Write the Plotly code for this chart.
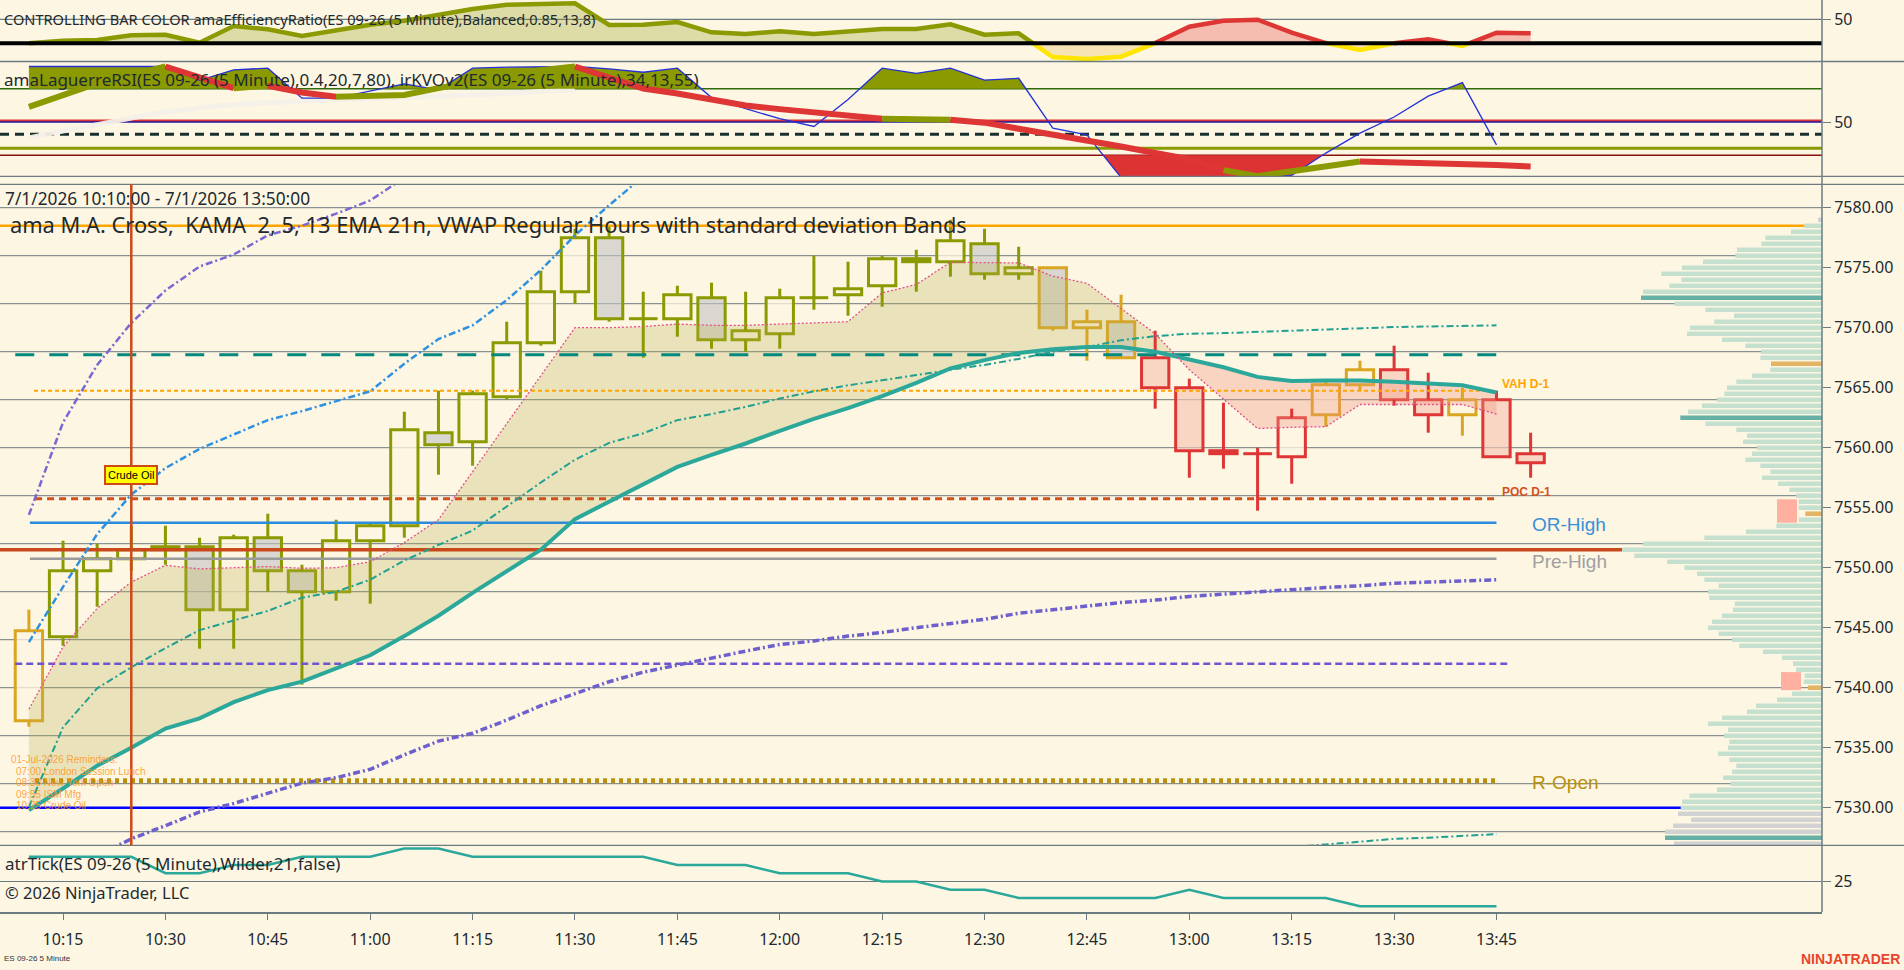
import plotly.graph_objects as go

# page geometry: plot area is 1822 x 912 px (price scale on the right, time scale below)
W, H = 1904, 970
PW, PH = 1822, 912


def fx(px):
    return px / PW


def fy(py):
    return (PH - py) / PH


# ---------------------------------------------------------------- data
times = ["10:10", "10:15", "10:20", "10:25", "10:30", "10:35", "10:40", "10:45", "10:50", "10:55",
         "11:00", "11:05", "11:10", "11:15", "11:20", "11:25", "11:30", "11:35", "11:40", "11:45",
         "11:50", "11:55", "12:00", "12:05", "12:10", "12:15", "12:20", "12:25", "12:30", "12:35",
         "12:40", "12:45", "12:50", "12:55", "13:00", "13:05", "13:10", "13:15", "13:20", "13:25",
         "13:30", "13:35", "13:40", "13:45", "13:50"]
time_ticks = ["10:15", "10:30", "10:45", "11:00", "11:15", "11:30", "11:45", "12:00",
              "12:15", "12:30", "12:45", "13:00", "13:15", "13:30", "13:45"]

opens = [7537.25, 7544.25, 7549.75, 7550.75, 7551.5, 7551.75, 7546.5, 7552.5, 7549.75, 7548.0,
         7552.25, 7553.5, 7561.25, 7560.5, 7564.25, 7568.75, 7573.0, 7577.5, 7570.75, 7570.75,
         7572.5, 7569.0, 7569.5, 7572.5, 7572.75, 7573.5, 7575.5, 7575.5, 7577.0, 7574.5,
         7575.0, 7570.0, 7570.5, 7567.5, 7565.0, 7559.75, 7559.5, 7559.25, 7562.75, 7565.25,
         7566.5, 7564.0, 7562.75, 7564.0, 7559.5]
highs = [7546.5, 7552.25, 7552.0, 7553.5, 7553.5, 7552.5, 7552.75, 7554.5, 7550.25, 7554.0,
         7553.75, 7563.0, 7564.75, 7564.75, 7570.5, 7574.75, 7578.25, 7578.5, 7573.0, 7573.5,
         7573.75, 7573.0, 7573.25, 7576.0, 7575.5, 7576.0, 7576.5, 7579.0, 7578.25, 7576.75,
         7575.0, 7571.5, 7572.75, 7569.75, 7565.75, 7563.75, 7560.0, 7563.25, 7565.5, 7567.25,
         7568.5, 7566.25, 7565.0, 7564.75, 7561.25]
lows = [7536.75, 7543.5, 7546.75, 7549.75, 7550.25, 7543.25, 7543.25, 7548.0, 7540.25, 7547.25,
        7547.0, 7552.5, 7557.75, 7558.5, 7564.0, 7568.5, 7572.0, 7570.5, 7567.5, 7569.25,
        7568.25, 7568.0, 7568.25, 7571.5, 7571.0, 7571.75, 7573.0, 7574.25, 7574.0, 7574.0,
        7569.75, 7567.25, 7567.5, 7563.25, 7557.5, 7558.25, 7554.75, 7557.0, 7561.75, 7564.75,
        7563.5, 7561.25, 7561.0, 7559.25, 7557.5]
closes = [7544.75, 7549.75, 7550.75, 7551.5, 7551.75, 7546.5, 7552.5, 7549.75, 7548.0, 7552.25,
          7553.5, 7561.5, 7560.25, 7564.5, 7568.75, 7573.0, 7577.5, 7570.75, 7570.75, 7572.75,
          7569.0, 7569.75, 7572.5, 7572.5, 7573.25, 7575.75, 7575.75, 7577.25, 7574.5, 7575.0,
          7570.0, 7570.5, 7567.5, 7565.0, 7559.75, 7559.5, 7559.5, 7562.5, 7565.25, 7566.5,
          7564.0, 7562.75, 7564.0, 7559.25, 7558.75]
# bar colour from the efficiency ratio: g = goldenrod, o = olive, r = red
bar_state = ("g" "oooooooooo" "oooooooooo" "ooooooooo" "ggg" "rrrrr" "gg" "rr" "g" "rr")

kama = [7538.2, 7543.4, 7546.6, 7548.8, 7550.2, 7549.9, 7550.0, 7550.1, 7549.95, 7550.0,
        7550.5, 7552.1, 7554.0, 7558.0, 7562.0, 7566.0, 7570.0, 7570.0, 7570.1, 7570.3,
        7570.2, 7570.2, 7570.3, 7570.45, 7570.5, 7572.9, 7573.6, 7575.45, 7575.45, 7575.4,
        7574.3, 7573.7, 7571.6, 7569.5, 7566.5, 7564.05, 7561.6, 7561.7, 7561.75, 7563.6,
        7563.6, 7563.6, 7563.6, 7562.8]
ema = [7529.8, 7531.6, 7533.5, 7535.0, 7536.6, 7537.45, 7538.8, 7539.8, 7540.5, 7541.6,
       7542.7, 7544.3, 7546.0, 7547.9, 7549.7, 7551.5, 7554.05, 7555.5, 7556.9, 7558.4,
       7559.4, 7560.35, 7561.4, 7562.4, 7563.3, 7564.3, 7565.4, 7566.6, 7567.3, 7567.9,
       7568.2, 7568.4, 7568.4, 7568.0, 7567.35, 7566.7, 7565.9, 7565.55, 7565.6, 7565.6,
       7565.5, 7565.35, 7565.2, 7564.6]
vwap = [7530.05, 7536.7, 7539.95, 7541.7, 7543.3, 7544.8, 7545.6, 7546.4, 7547.5, 7548.0,
        7549.0, 7550.6, 7551.9, 7553.1, 7555.1, 7557.1, 7559.0, 7560.4, 7561.2, 7562.3,
        7562.8, 7563.4, 7564.1, 7564.7, 7565.2, 7565.6, 7566.05, 7566.5, 7566.9, 7567.4,
        7568.0, 7568.4, 7568.95, 7569.3, 7569.5, 7569.55, 7569.65, 7569.8, 7569.9, 7569.97,
        7570.05, 7570.1, 7570.15, 7570.2]
band_up1 = [7543.8, 7548.4, 7552.8, 7556.1, 7558.3, 7559.9, 7561.1, 7562.3, 7563.05, 7563.9,
            7564.7, 7567.0, 7569.05, 7570.2, 7572.3, 7574.8, 7577.7, 7580.2, 7582.6]
band_up2 = [7554.4, 7562.1, 7566.9, 7570.4, 7573.1, 7575.1, 7576.1, 7577.7, 7578.5, 7579.5,
            7580.6, 7582.5]
band_dn1 = [None, None, 7526.0, 7527.4, 7528.5, 7529.65, 7530.35, 7531.2, 7532.05, 7532.5,
            7533.2, 7534.4, 7535.55, 7536.2, 7537.3, 7538.5, 7539.5, 7540.5, 7541.3, 7541.9,
            7542.5, 7543.05, 7543.6, 7543.9, 7544.3, 7544.6, 7545.0, 7545.35, 7545.7, 7546.2,
            7546.5, 7546.8, 7547.1, 7547.3, 7547.6, 7547.8, 7548.0, 7548.2, 7548.35, 7548.5,
            7548.7, 7548.8, 7548.9, 7549.0]
band_dn2 = [None] * 37 + [7526.7, 7526.95, 7527.2, 7527.4, 7527.5, 7527.65, 7527.8]

# price levels
level_on_high = 7578.5
level_teal = 7567.75
vah_d1 = 7564.75
poc_d1 = 7555.75
or_high = 7553.75
level_red = 7551.5
pre_high = 7550.75
level_purple = 7542.0
r_open = 7532.25
level_blue = 7530.0
event_time = "10:25"

price_ticks = [7530, 7535, 7540, 7545, 7550, 7555, 7560, 7565, 7570, 7575, 7580]
price_grid = [7528, 7532, 7536, 7540, 7544, 7548, 7552, 7556, 7560, 7564, 7568, 7572, 7576, 7580]

# volume profile, rows of 0.5 pt from 7579.00 downwards
vp_top, vp_step = 7579.0, 0.5
vp_width = [4, 17.7, 31, 56.7, 60.7, 85, 86.7, 119, 140, 160.7, 140.7, 152.7, 179, 181, 147.7,
            116.7, 88, 107.7, 132, 135, 100, 76.7, 61, 61.7, 51, 51.7, 70, 85.7, 95, 97.7,
            105, 120, 134, 141.7, 116.7, 85.7, 75, 79, 65, 70, 76.7, 61.7, 51.7, 60, 44,
            32.7, 25.7, 23.3, 23.3, 16.7, 23.3, 45.7, 76, 117.7, 179, 200, 187.7, 155, 137.7, 125,
            117.7, 103.3, 114, 112.7, 87.3, 89, 100, 110, 114, 103.3, 90, 82.7, 59, 40, 29,
            26, 17.3, 18.3, 14, 30, 45, 66, 75, 100, 114, 94, 98, 92.7, 94, 104,
            92.7, 85.7, 90, 99, 91.7, 105, 132.7, 140, 141.3, 144, 131, 149, 157, 157, 148]
vp_code = "g" + "l" * 12 + "d" + "l" * 10 + "o" + "l" * 8 + "d" + "l" * 15 + "o" + "l" * 28 + \
          "o" + "l" * 20 + "gggg" + "d" + "g"
vp_zones = [(7553.75, 7555.7, 25, 45), (7539.8, 7541.3, 21, 41)]

# efficiency ratio (top panel)
eff_ratio = [0, 5.4, 6.9, 16.7, 17.9, 1.25, 36, 29.2, 15.2, 26.25, 38.75, 47, 59, 71.5, 80.4,
             81.9, 83.3, 38.1, 38.75, 44.4, 22.9, 19.4, 25, 19.4, 25.6, 29.8, 29.8, 39.6, 17.9,
             20.8, -28.5, -32.7, -27.9, 0.5, 34.6, 47, 49.2, 22.1, 0.5, -14, 0, 8.3, -5.6,
             22.1, 20.8]
er_trend = ("oooooooooo" "oooooooooo" "oooooooooo" "oo" "rrrrrrrrrr" "rrr")

# laguerre RSI + KVO (second panel)
laguerre = [100, 100, 100, 100, 100, 87.5, 97, 98.5, 71.5, 71.5, 78, 84.4, 79, 98.5, 99.4,
            99.8, 100, 97.8, 94.8, 98.5, 72, 62, 53, 46, 70.3, 98.5, 93.9, 98.5, 87.8, 89.4,
            44.5, 38.5, 0, 0, 0, 0, 0, 2, 22, 40, 54.5, 73.3, 85.5, 29.4]
kvo = [63.6, 74.2, 84.8, 92.1, 100, 90.3, 80.5, 82.7, 76.6, 72.7, 73.6, 74.4, 80.5, 86.6, 92.1,
       96.6, 100, 90, 80.1, 75.7, 70.1, 64.8, 61.6, 58.7, 55.7, 53, 52.5, 52.1, 49.4, 43.9,
       38.9, 33.5, 28.0, 22.1, 16.6, 6.6, 1.2, 5.7, 10.3, 14.4, 13.9, 13.0, 12.1, 11.2, 9.9]
kvo_col = ("ooooo" "rr" "o" "rr" "ooooooo" "rrrrrrrrr" "oo" "rrrrrrrr" "oooo" "rrrrr")
kvo_slow = [35.6, 41.9, 47.6, 53.6, 59.0, 62.6, 65.5, 67.3, 68.9, 70.0, 71.0, 72.1, 73.2, 74.5,
            75.9, 77.6, 79.1]
lag_levels = [(80, "#2E6A08", 1.5, None), (51.2, "#DD3333", 2.5, None), (50, "#1A1AA0", 1.5, None),
              (38.9, "#183030", 3, "9px,6px"), (26.3, "#8A9A00", 3, None), (20, "#8B1010", 1.5, None)]

# atrTick (bottom panel)
atr_tick = [28, 28, 28, 28, 26, 26, 27, 27, 28, 28, 28, 29, 29, 28, 28, 28, 28, 28, 28, 27, 27,
            27, 26, 26, 26, 25, 25, 24, 24, 23, 23, 23, 23, 23, 24, 23, 23, 23, 23, 22, 22,
            22, 22, 22]

reminders = ["01-Jul-2026 Reminders:", "07:00 London Session Lunch", "08:30 New York Open",
             "09:55 ISM Mfg", "10:25 Crude Oil"]

# ---------------------------------------------------------------- styles
BG = "#FDF6E3"
GRID = "#6B7B7F"
TXT = "#1E2A30"
OLIVE = "#8A9A00"
GOLD = "#DAA520"
RED = "#DE3535"
CANDLE = {"o": OLIVE, "g": GOLD, "r": RED}
UP_FILL = "rgba(253,246,227,0.75)"
DN_FILL = {"o": "rgba(195,195,195,0.6)", "g": "rgba(195,195,195,0.6)", "r": "rgba(248,196,180,0.65)"}
VP_COL = {"l": "#C6E0D0", "d": "#66B0A6", "o": "#E2B466", "g": "#D2D2D2"}

X0 = (0 - 28.9) / 34.13
X1 = (PW - 28.9) / 34.13
dom_er = [fy(61.5), 1]
dom_lag = [fy(176.3), fy(61.5)]
dom_main = [fy(845.3), fy(184.3)]
dom_atr = [0, fy(845.3)]
main_rng = [7580 - (845.3 - 207.7) / 12, 7580 + (207.7 - 184.3) / 12]
er_rng = [-(61.5 - 43.3) / 0.48, 43.3 / 0.48]
lag_rng = [(177.5 - 176.3) / 1.11, (177.5 - 61.5) / 1.11]
atr_rng = [25 - (912 - 881.5) / 8.25, 25 + (881.5 - 845.3) / 8.25]


def sign_runs(xs, a, b):
    """split the band between a and b into runs where a >= b or a < b"""
    runs = []
    cur = None
    for i in range(len(xs)):
        s = a[i] >= b[i]
        if cur is None:
            cur = [s, [xs[i]], [a[i]], [b[i]]]
            continue
        if s != cur[0]:
            d0 = a[i - 1] - b[i - 1]
            d1 = a[i] - b[i]
            t = d0 / (d0 - d1)
            xc = xs[i - 1] + t * (xs[i] - xs[i - 1])
            yc = a[i - 1] + t * (a[i] - a[i - 1])
            cur[1].append(xc)
            cur[2].append(yc)
            cur[3].append(yc)
            runs.append(cur)
            cur = [s, [xc], [yc], [yc]]
        cur[1].append(xs[i])
        cur[2].append(a[i])
        cur[3].append(b[i])
    runs.append(cur)
    return runs


def color_runs(vals, cols):
    runs = []
    for i in range(1, len(vals)):
        c = cols[i]
        if runs and runs[-1][0] == c:
            runs[-1][1].append(i)
            runs[-1][2].append(vals[i])
        else:
            runs.append([c, [i - 1, i], [vals[i - 1], vals[i]]])
    return runs


fig = go.Figure()

# ---------------------------------------------------------------- top panel: efficiency ratio
pieces = []
for i in range(1, len(eff_ratio)):
    y0, y1 = eff_ratio[i - 1], eff_ratio[i]
    if y0 * y1 < 0:
        xc = (i - 1) + y0 / (y0 - y1)
        pieces.append(([i - 1, xc], [y0, 0], "y" if y0 < 0 else er_trend[i - 1]))
        pieces.append(([xc, i], [0, y1], "y" if y1 < 0 else er_trend[i]))
    else:
        pieces.append(([i - 1, i], [y0, y1], "y" if (y0 < 0 or y1 < 0) else er_trend[i]))
er_runs = []
for xs_, ys_, c in pieces:
    if er_runs and er_runs[-1][2] == c:
        er_runs[-1][0].append(xs_[1])
        er_runs[-1][1].append(ys_[1])
    else:
        er_runs.append([list(xs_), list(ys_), c])
ER_LINE = {"o": OLIVE, "r": RED, "y": "#FFE600"}
ER_FILL = {"o": "rgba(150,160,30,0.3)", "r": "rgba(225,55,55,0.3)", "y": "rgba(235,190,80,0.32)"}
for xs_, ys_, c in er_runs:
    fig.add_trace(go.Scatter(x=xs_, y=ys_, xaxis="x", yaxis="y2", mode="lines",
                             line=dict(color=ER_LINE[c], width=4.5), fill="tozeroy",
                             fillcolor=ER_FILL[c], hoverinfo="skip"))

# ---------------------------------------------------------------- second panel
xl = list(range(len(laguerre)))
for y_lv, col, wid, dash in lag_levels:
    fig.add_trace(go.Scatter(x=[X0, X1], y=[y_lv, y_lv], xaxis="x", yaxis="y3", mode="lines",
                             line=dict(color=col, width=wid, dash=dash), hoverinfo="skip"))
fig.add_trace(go.Scatter(x=list(range(len(kvo_slow))), y=kvo_slow, xaxis="x", yaxis="y3",
                         mode="lines", line=dict(color="rgba(244,240,232,0.95)", width=5,
                                                 shape="spline"), hoverinfo="skip"))
for above, xs_, a_, b_ in sign_runs(xl, laguerre, [80] * len(xl)):
    if above:
        fig.add_trace(go.Scatter(x=xs_ + xs_[::-1], y=a_ + b_[::-1], xaxis="x", yaxis="y3",
                                 fill="toself", fillcolor=OLIVE, mode="lines",
                                 line=dict(width=0), hoverinfo="skip"))
for above, xs_, a_, b_ in sign_runs(xl, laguerre, [20] * len(xl)):
    if not above:
        fig.add_trace(go.Scatter(x=xs_ + xs_[::-1], y=a_ + b_[::-1], xaxis="x", yaxis="y3",
                                 fill="toself", fillcolor="#DD3333", mode="lines",
                                 line=dict(width=0), hoverinfo="skip"))
fig.add_trace(go.Scatter(x=xl, y=laguerre, xaxis="x", yaxis="y3", mode="lines",
                         line=dict(color="#2430D8", width=1.3), hoverinfo="skip"))
for c, xs_, ys_ in color_runs(kvo, kvo_col):
    fig.add_trace(go.Scatter(x=xs_, y=ys_, xaxis="x", yaxis="y3", mode="lines",
                             line=dict(color=OLIVE if c == "o" else RED, width=6),
                             hoverinfo="skip"))

# ---------------------------------------------------------------- main panel
xi = list(range(len(ema)))
for above, xs_, a_, b_ in sign_runs(xi, kama, ema):
    fig.add_trace(go.Scatter(x=xs_ + xs_[::-1], y=a_ + b_[::-1], xaxis="x", yaxis="y",
                             fill="toself", mode="lines", line=dict(width=0),
                             fillcolor="rgba(185,175,80,0.28)" if above else "rgba(240,150,130,0.35)",
                             hoverinfo="skip"))

vp_prices = [vp_top - vp_step * k for k in range(len(vp_width))]
fig.add_trace(go.Bar(y=vp_prices, x=vp_width, orientation="h", xaxis="x2", yaxis="y",
                     width=0.38, marker=dict(color=[VP_COL[c] for c in vp_code], line_width=0),
                     hoverinfo="skip"))

# candles
for c in "ogr":
    idx = [i for i in range(len(opens)) if bar_state[i] == c]
    wx, wy = [], []
    for i in idx:
        top, bot = max(opens[i], closes[i]), min(opens[i], closes[i])
        wx += [i, i, None, i, i, None]
        wy += [highs[i], top, None, bot, lows[i], None]
    fig.add_trace(go.Scatter(x=wx, y=wy, xaxis="x", yaxis="y", mode="lines",
                             line=dict(color=CANDLE[c], width=3), hoverinfo="skip"))
    up = [i for i in idx if closes[i] > opens[i]]
    dn = [i for i in idx if closes[i] < opens[i]]
    dj = [i for i in idx if closes[i] == opens[i]]
    if up:
        fig.add_trace(go.Bar(x=up, y=[closes[i] - opens[i] for i in up], base=[opens[i] for i in up],
                             xaxis="x", yaxis="y", width=0.8,
                             marker=dict(color=UP_FILL, line=dict(color=CANDLE[c], width=3)),
                             hoverinfo="skip"))
    if dn:
        fig.add_trace(go.Bar(x=dn, y=[opens[i] - closes[i] for i in dn], base=[closes[i] for i in dn],
                             xaxis="x", yaxis="y", width=0.8,
                             marker=dict(color=DN_FILL[c], line=dict(color=CANDLE[c], width=3)),
                             hoverinfo="skip"))
    if dj:
        dx, dy = [], []
        for i in dj:
            dx += [i - 0.42, i + 0.42, None]
            dy += [opens[i], opens[i], None]
        fig.add_trace(go.Scatter(x=dx, y=dy, xaxis="x", yaxis="y", mode="lines",
                                 line=dict(color=CANDLE[c], width=3), hoverinfo="skip"))

# horizontal levels
last = len(ema) - 1
levels = [
    (level_on_high, X0, X1, "#FFA500", 2.5, None),
    (level_teal, -0.4, last + 0.43, "#00897F", 3, "19px,15px"),
    (vah_d1, 0.15, last, "#FFA500", 2, "4px,3px"),
    (poc_d1, 0.18, last, "#D2501E", 3, "7px,5px"),
    (or_high, 0.03, last, "#2E8BDC", 2.5, None),
    (level_red, X0, X1, "#C9491A", 3.5, None),
    (pre_high, 0.03, last, "#9A9A9A", 2.5, None),
    (level_purple, -0.4, last + 0.43, "#6E55D2", 2.5, "7px,4px"),
    (r_open, 0.18, last, "#B8900C", 5, "4px,4px"),
    (level_blue, X0, X1, "#0000FF", 2.5, None),
]
for y_lv, xa, xb, col, wid, dash in levels:
    fig.add_trace(go.Scatter(x=[xa, xb], y=[y_lv, y_lv], xaxis="x", yaxis="y", mode="lines",
                             line=dict(color=col, width=wid, dash=dash), hoverinfo="skip"))

# bands and averages
DD = "7px,3px,2px,3px"
fig.add_trace(go.Scatter(x=list(range(len(band_up2))), y=band_up2, xaxis="x", yaxis="y",
                         mode="lines", line=dict(color="#7A68D2", width=2.5, dash=DD), hoverinfo="skip"))
fig.add_trace(go.Scatter(x=list(range(len(band_up1))), y=band_up1, xaxis="x", yaxis="y",
                         mode="lines", line=dict(color="#2E90E0", width=2.5, dash=DD), hoverinfo="skip"))
fig.add_trace(go.Scatter(x=xi, y=band_dn1, xaxis="x", yaxis="y", mode="lines",
                         line=dict(color="#6E60CC", width=3.5, dash=DD), hoverinfo="skip"))
fig.add_trace(go.Scatter(x=xi, y=band_dn2, xaxis="x", yaxis="y", mode="lines",
                         line=dict(color="#20A090", width=2, dash=DD), hoverinfo="skip"))
fig.add_trace(go.Scatter(x=xi, y=vwap, xaxis="x", yaxis="y", mode="lines",
                         line=dict(color="#20A090", width=2, dash=DD), hoverinfo="skip"))
fig.add_trace(go.Scatter(x=xi, y=ema, xaxis="x", yaxis="y", mode="lines",
                         line=dict(color="#2BA89A", width=4), hoverinfo="skip"))
fig.add_trace(go.Scatter(x=xi, y=kama, xaxis="x", yaxis="y", mode="lines",
                         line=dict(color="#E0508A", width=1.3, dash="2px,2px"), hoverinfo="skip"))

# ---------------------------------------------------------------- atr panel
fig.add_trace(go.Scatter(x=list(range(len(atr_tick))), y=atr_tick, xaxis="x", yaxis="y4",
                         mode="lines", line=dict(color="#2BA89A", width=2.5), hoverinfo="skip"))

# ---------------------------------------------------------------- shapes
shapes = []
for g in price_grid:
    shapes.append(dict(type="line", xref="paper", x0=0, x1=1, yref="y", y0=g, y1=g,
                       line=dict(color=GRID, width=1), layer="below"))
shapes.append(dict(type="line", xref="paper", x0=0, x1=1, yref="y2", y0=50, y1=50,
                   line=dict(color=GRID, width=1.2), layer="below"))
shapes.append(dict(type="line", xref="paper", x0=0, x1=1, yref="y4", y0=25, y1=25,
                   line=dict(color=GRID, width=1.2), layer="below"))
shapes.append(dict(type="line", xref="paper", x0=0, x1=1, yref="y2", y0=0, y1=0,
                   line=dict(color="#000000", width=4), layer="above"))
for py in [61.5, 176.3, 184.3, 845.3]:
    shapes.append(dict(type="line", xref="paper", x0=0, x1=W / PW, yref="paper", y0=fy(py),
                       y1=fy(py), line=dict(color=GRID, width=1.3)))
shapes.append(dict(type="line", xref="paper", x0=1, x1=1, yref="paper", y0=0, y1=1,
                   line=dict(color=GRID, width=1.5)))
ev = times.index(event_time)
shapes.append(dict(type="line", xref="x", x0=ev, x1=ev, yref="paper", y0=dom_main[0],
                   y1=dom_main[1], line=dict(color="#CC4A1A", width=2.5), layer="above"))
for p0, p1, w0, w1 in vp_zones:
    shapes.append(dict(type="rect", xref="x2", x0=w0, x1=w1, yref="y", y0=p0, y1=p1,
                       fillcolor="#FFB0A0", line=dict(width=0), layer="above"))

# ---------------------------------------------------------------- texts
ann = []


def label(text, px, py, size, color=TXT, family="Noto Sans", anchor="left", bold=False):
    ann.append(dict(text="<b>%s</b>" % text if bold else text, xref="paper", yref="paper",
                    x=fx(px), y=fy(py), xanchor=anchor, yanchor="middle", showarrow=False,
                    borderpad=0, font=dict(family=family, size=size, color=color)))


label("CONTROLLING BAR COLOR amaEfficiencyRatio(ES 09-26 (5 Minute),Balanced,0.85,13,8)", 3, 18.5, 14.6)
label("amaLaguerreRSI(ES 09-26 (5 Minute),0.4,20,7,80), irKVOv2(ES 09-26 (5 Minute),34,13,55)", 3, 79.5, 17)
label("7/1/2026 10:10:00 - 7/1/2026 13:50:00", 4, 198.5, 17.3)
label("ama M.A. Cross,  KAMA  2, 5, 13 EMA 21n, VWAP Regular Hours with standard deviation Bands",
      9, 224, 21.8)
label("VAH D-1", 1501, 384, 12, "#FFA500", "Liberation Sans", bold=True)
label("POC D-1", 1501, 492, 12, "#D2501E", "Liberation Sans", bold=True)
label("OR-High", 1531, 525, 19, "#3A8FD8", "Liberation Sans")
label("Pre-High", 1531, 561, 19, "#A0A0A0", "Liberation Sans")
label("R-Open", 1531, 782, 19, "#B8900C", "Liberation Sans")
for k, t in enumerate(reminders):
    label(t, 10 if k == 0 else 15, [759.7, 771.7, 782.9, 794.2, 805.7][k], 10,
          "rgba(255,150,30,0.85)", "Liberation Sans")
label("atrTick(ES 09-26 (5 Minute),Wilder,21,false)", 4, 863, 17)
label("© 2026 NinjaTrader, LLC", 4, 892.5, 16.5)
label("ES 09-26 5 Minute", 3, 959, 8, "#333333", "Liberation Sans")
label("NINJATRADER", 1901, 959, 14, "#E8452C", "Liberation Sans", anchor="right", bold=True)
ann.append(dict(text="Crude Oil", xref="x", yref="paper", x=ev, y=fy(475.4), showarrow=False,
                xanchor="center", yanchor="middle", bgcolor="#FFFF00", bordercolor="#CC4A1A",
                borderwidth=2, borderpad=2, font=dict(family="Liberation Sans", size=11, color="#000")))

yax = dict(side="right", anchor="x", showgrid=False, zeroline=False, ticks="outside", ticklen=8,
           tickcolor=GRID, tickfont=dict(family="Noto Sans", size=16, color=TXT), fixedrange=True)

fig.update_layout(
    width=W, height=H, autosize=False,
    margin=dict(l=0, r=W - PW, t=0, b=H - PH, pad=0),
    paper_bgcolor=BG, plot_bgcolor=BG,
    showlegend=False, barmode="overlay", hovermode=False,
    font=dict(family="Noto Sans", size=15, color=TXT),
    xaxis=dict(domain=[0, 1], range=[X0, X1], anchor="y4", showgrid=False, zeroline=False,
               tickmode="array", tickvals=[times.index(t) for t in time_ticks], ticktext=time_ticks,
               ticks="outside", ticklen=6, tickcolor=GRID, showline=True, linecolor=GRID,
               linewidth=1.5, tickfont=dict(family="Noto Sans", size=16, color=TXT),
               ticklabelstandoff=6),
    xaxis2=dict(overlaying="x", range=[PW, 0], visible=False, anchor="y"),
    yaxis=dict(yax, domain=dom_main, range=main_rng, tickmode="array", tickvals=price_ticks,
               ticktext=["%.2f" % v for v in price_ticks]),
    yaxis2=dict(yax, domain=dom_er, range=er_rng, tickmode="array", tickvals=[50], ticktext=["50"]),
    yaxis3=dict(yax, domain=dom_lag, range=lag_rng, tickmode="array", tickvals=[50], ticktext=["50"]),
    yaxis4=dict(yax, domain=dom_atr, range=atr_rng, tickmode="array", tickvals=[25], ticktext=["25"]),
    shapes=shapes,
    annotations=ann,
)

fig.write_html("out.html", config={"displayModeBar": False},
               post_script="document.body.style.margin='0';document.body.style.overflow='hidden';")
